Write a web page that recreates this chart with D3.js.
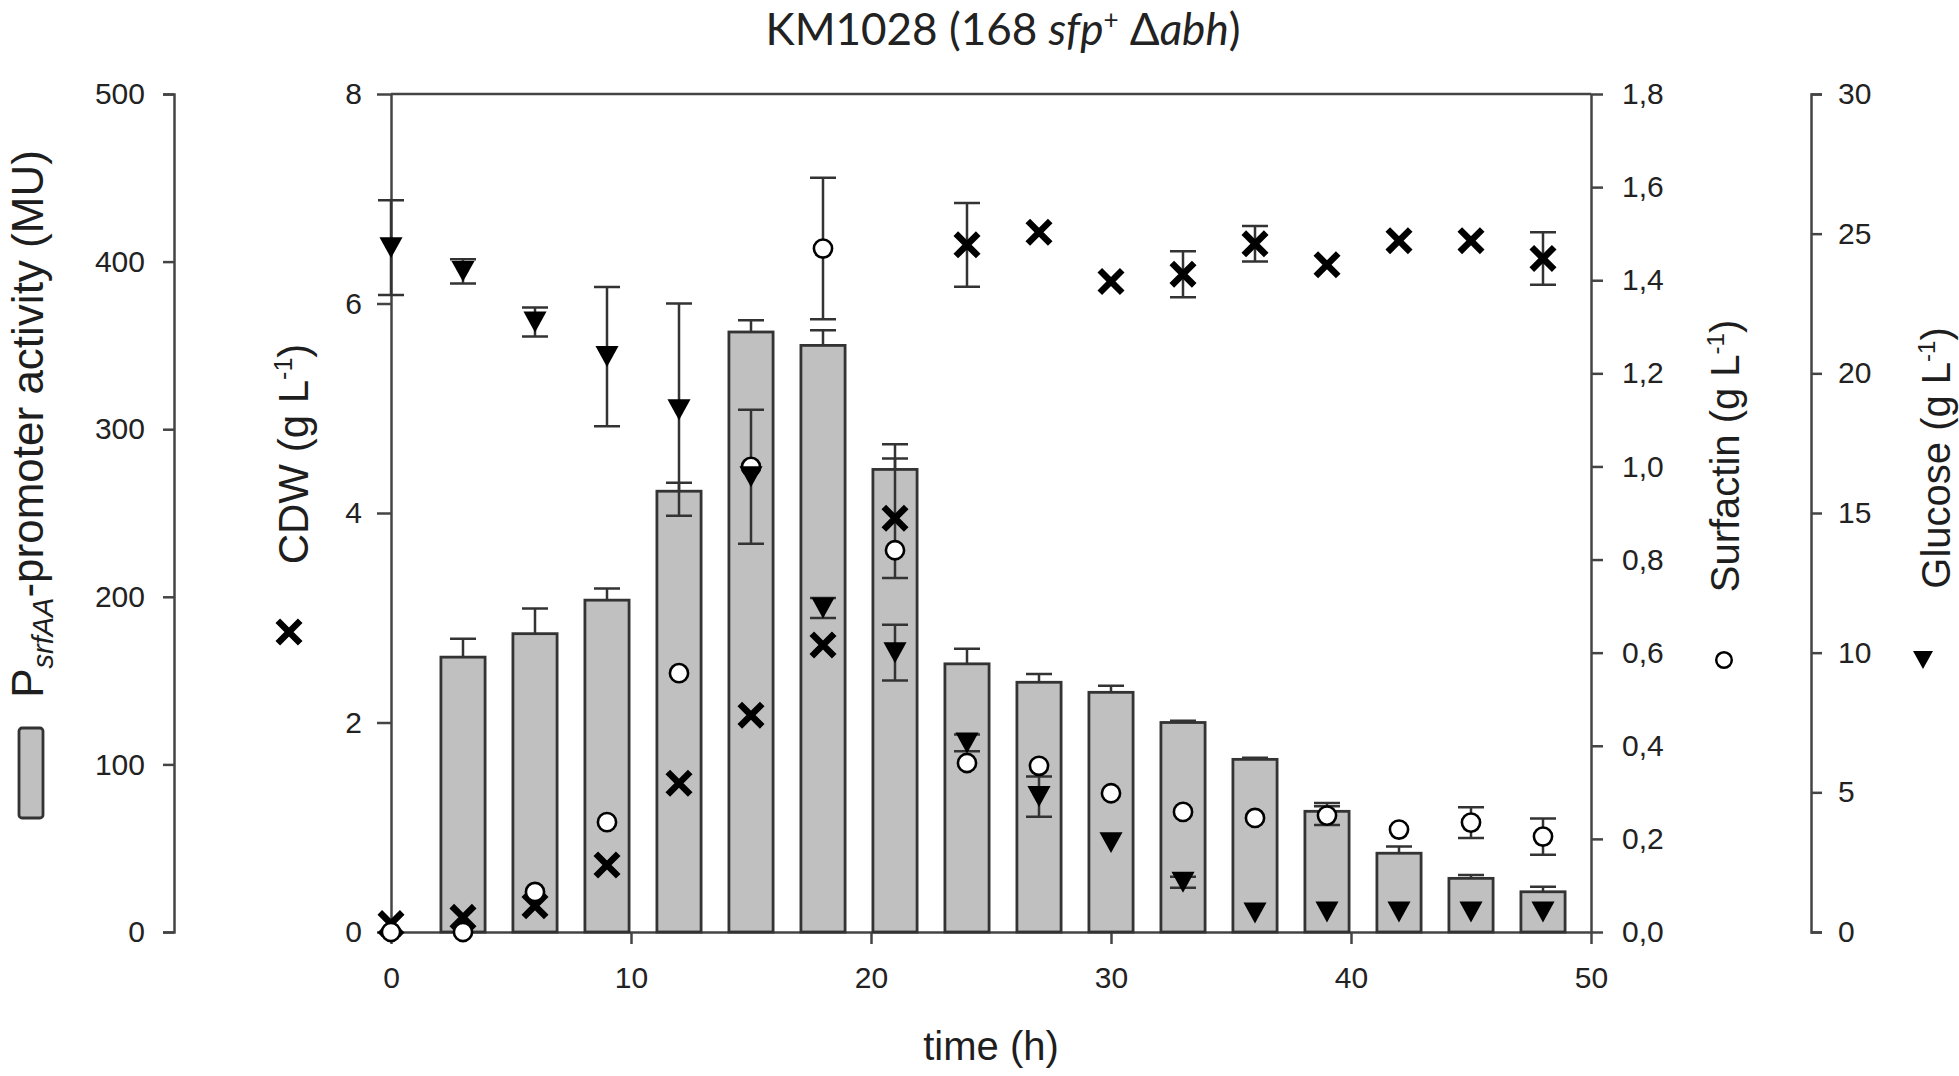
<!DOCTYPE html>
<html>
<head>
<meta charset="utf-8">
<script src="https://cdn.jsdelivr.net/npm/d3@7"></script>
<style>
  body { margin: 0; background: #fff; }
  svg { display: block; }
  .tick text { font-family: "Liberation Sans", Arial, sans-serif; font-size: 30px; fill: #222; }
  .axis path, .axis line { stroke: #444; stroke-width: 2.5; }
  .ttl { font-family: "Liberation Sans", Arial, sans-serif; font-size: 40px; fill: #1e1e1e; }
</style>
</head>
<body>
<div id="chart"></div>
<script>
// sampling times (h)
var times = [0, 3, 6, 9, 12, 15, 18, 21, 24, 27, 30, 33, 36, 39, 42, 45, 48];

// PsrfAA-promoter activity (MU), bars, no bar at t = 0
var promoterTimes = [3, 6, 9, 12, 15, 18, 21, 24, 27, 30, 33, 36, 39, 42, 45, 48];
var promoter    = [164, 178, 198, 263, 358, 350, 276, 160, 149, 143, 125, 103, 72, 47, 32, 24];
var promoterErr = [11, 15, 7, 5, 7, 9, 15, 9, 5, 4, 1, 1, 5, 4, 2, 3];

// CDW (g/L)
var cdw    = [0.08, 0.14, 0.25, 0.64, 1.42, 2.07, 2.74, 3.95, 6.56, 6.68, 6.21, 6.28, 6.57, 6.37, 6.6, 6.6, 6.43];
var cdwErr = [0, 0, 0, 0, 0, 0, 0, 0.57, 0.4, 0, 0, 0.22, 0.17, 0, 0, 0, 0.25];

// Surfactin (g/L)
var surfactin    = [0, 0, 0.086, 0.236, 0.556, 0.999, 1.468, 0.82, 0.363, 0.357, 0.298, 0.258, 0.245, 0.25, 0.22, 0.235, 0.205];
var surfactinErr = [0, 0, 0, 0, 0, 0, 0.152, 0, 0, 0, 0, 0, 0, 0.02, 0, 0.033, 0.039];

// Glucose (g/L)
var glucose    = [24.5, 23.65, 21.84, 20.6, 18.7, 16.3, 11.6, 10.0, 6.77, 4.85, 3.2, 1.78, 0.68, 0.72, 0.72, 0.72, 0.72];
var glucoseErr = [1.7, 0.43, 0.52, 2.49, 3.8, 2.4, 0.36, 1.0, 0.3, 0.72, 0, 0.2, 0, 0, 0, 0, 0];

// tick values
var xTicks = [0, 10, 20, 30, 40, 50];
var muTicks = [0, 100, 200, 300, 400, 500];
var cdwTicks = [0, 2, 4, 6, 8];
var surfTicks = [0, 0.2, 0.4, 0.6, 0.8, 1.0, 1.2, 1.4, 1.6, 1.8];
var gluTicks = [0, 5, 10, 15, 20, 25, 30];

var w = 1959, h = 1076;
var plotTop = 94, plotBottom = 932;

var svg = d3.select("#chart").append("svg")
  .attr("width", w)
  .attr("height", h);

// scales
var x = d3.scaleLinear().domain([0, 50]).range([391, 1591]);
var yMu = d3.scaleLinear().domain([0, 500]).range([plotBottom, plotTop]);
var yCdw = d3.scaleLinear().domain([0, 8]).range([plotBottom, plotTop]);
var ySurf = d3.scaleLinear().domain([0, 1.8]).range([plotBottom, plotTop]);
var yGlu = d3.scaleLinear().domain([0, 30]).range([plotBottom, plotTop]);

var commaFmt = d3.formatLocale({decimal: ",", thousands: ".", grouping: [3], currency: ["", ""]}).format(".1f");

// axes
function styleAxis(g) {
  g.attr("class", "axis");
  g.selectAll("text").attr("font-family", null).attr("font-size", null);
}

svg.append("g")
  .attr("transform", "translate(174,0)")
  .call(d3.axisLeft(yMu).tickValues(muTicks).tickSize(11).tickSizeOuter(11).tickPadding(18))
  .call(styleAxis);

svg.append("g")
  .attr("transform", "translate(391,0)")
  .call(d3.axisLeft(yCdw).tickValues(cdwTicks).tickSize(14).tickSizeOuter(0).tickPadding(15))
  .call(styleAxis);

svg.append("g")
  .attr("transform", "translate(1591,0)")
  .call(d3.axisRight(ySurf).tickValues(surfTicks).tickFormat(commaFmt).tickSize(12).tickSizeOuter(0).tickPadding(19))
  .call(styleAxis);

svg.append("g")
  .attr("transform", "translate(1811,0)")
  .call(d3.axisRight(yGlu).tickValues(gluTicks).tickSize(11).tickSizeOuter(11).tickPadding(16))
  .call(styleAxis);

svg.append("g")
  .attr("transform", "translate(0," + plotBottom + ")")
  .call(d3.axisBottom(x).tickValues(xTicks).tickSize(12).tickSizeOuter(0).tickPadding(23))
  .call(styleAxis);

// top frame line
svg.append("line")
  .attr("x1", x(0)).attr("x2", x(50))
  .attr("y1", plotTop).attr("y2", plotTop)
  .attr("stroke", "#444").attr("stroke-width", 2.5);

// bars
var halfBar = 0.92;
var barData = promoterTimes.map(function(t, i) { return {t: t, v: promoter[i], e: promoterErr[i]}; });

var bars = svg.append("g");
bars.selectAll("rect")
  .data(barData)
  .enter()
  .append("rect")
  .attr("x", d => x(d.t - halfBar))
  .attr("width", d => x(d.t + halfBar) - x(d.t - halfBar))
  .attr("y", d => yMu(d.v))
  .attr("height", d => yMu(0) - yMu(d.v))
  .attr("fill", "#c0c0c0")
  .attr("stroke", "#333")
  .attr("stroke-width", 2.8);

// bar error bars (upper half only)
var capW = 13;
var errCol = "#333";
bars.selectAll("path.err")
  .data(barData)
  .enter()
  .append("path")
  .attr("class", "err")
  .attr("d", function(d) {
    var cx = x(d.t), y0 = yMu(d.v), y1 = yMu(d.v + d.e);
    return "M" + cx + "," + y0 + "V" + y1 + "M" + (cx - capW) + "," + y1 + "H" + (cx + capW);
  })
  .attr("fill", "none")
  .attr("stroke", errCol)
  .attr("stroke-width", 2.5);

// scatter series
function seriesData(vals, errs) {
  return times.map(function(t, i) { return {t: t, v: vals[i], e: errs[i]}; });
}
var cdwData = seriesData(cdw, cdwErr);
var surfData = seriesData(surfactin, surfactinErr);
var gluData = seriesData(glucose, glucoseErr);

function errorBars(data, y) {
  svg.append("g").selectAll("path")
    .data(data.filter(d => d.e > 0))
    .enter()
    .append("path")
    .attr("d", function(d) {
      var cx = x(d.t), y1 = y(d.v + d.e), y2 = y(d.v - d.e);
      return "M" + cx + "," + y1 + "V" + y2 +
        "M" + (cx - capW) + "," + y1 + "H" + (cx + capW) +
        "M" + (cx - capW) + "," + y2 + "H" + (cx + capW);
    })
    .attr("fill", "none")
    .attr("stroke", errCol)
    .attr("stroke-width", 2.5);
}
errorBars(cdwData, yCdw);
errorBars(surfData, ySurf);
errorBars(gluData, yGlu);

// marker shapes
var downTri = {
  draw: function(ctx, size) {
    var s = Math.sqrt(size);
    ctx.moveTo(-s * 0.55, -s * 0.5);
    ctx.lineTo(s * 0.55, -s * 0.5);
    ctx.lineTo(0, s * 0.5);
    ctx.closePath();
  }
};
var crossPath = d3.symbol(d3.symbolX, 330)();
var circlePath = d3.symbol(d3.symbolCircle, 260)();
var triPath = d3.symbol(downTri, 440)();

svg.append("g").selectAll("path")
  .data(cdwData)
  .enter()
  .append("path")
  .attr("transform", d => "translate(" + x(d.t) + "," + yCdw(d.v) + ")")
  .attr("d", crossPath)
  .attr("stroke", "#000")
  .attr("stroke-width", 6.5)
  .attr("fill", "none");

svg.append("g").selectAll("path")
  .data(surfData)
  .enter()
  .append("path")
  .attr("transform", d => "translate(" + x(d.t) + "," + ySurf(d.v) + ")")
  .attr("d", circlePath)
  .attr("stroke", "#000")
  .attr("stroke-width", 2.6)
  .attr("fill", "#fff");

svg.append("g").selectAll("path")
  .data(gluData)
  .enter()
  .append("path")
  .attr("transform", d => "translate(" + x(d.t) + "," + yGlu(d.v) + ")")
  .attr("d", triPath)
  .attr("fill", "#000");

// axis titles
function rotTitle(cx, cy, size) {
  return svg.append("text")
    .attr("class", "ttl")
    .attr("text-anchor", "middle")
    .attr("font-size", size + "px")
    .style("font-size", size + "px")
    .attr("transform", "translate(" + cx + "," + cy + ") rotate(-90)");
}

var tMu = rotTitle(43, 424, 44);
tMu.append("tspan").text("P");
tMu.append("tspan").attr("dy", 10).style("font-size", "29px").attr("font-style", "italic").text("srfAA");
tMu.append("tspan").attr("dy", -10).text("-promoter activity (MU)");

var tCdw = rotTitle(308, 454, 42);
tCdw.append("tspan").text("CDW (g L");
tCdw.append("tspan").attr("dy", -16).style("font-size", "25px").text("-1");
tCdw.append("tspan").attr("dy", 16).text(")");

var tSurf = rotTitle(1739, 456, 40);
tSurf.append("tspan").text("Surfactin (g L");
tSurf.append("tspan").attr("dy", -15).style("font-size", "24px").text("-1");
tSurf.append("tspan").attr("dy", 15).text(")");

var tGlu = rotTitle(1950, 458, 40);
tGlu.append("tspan").text("Glucose (g L");
tGlu.append("tspan").attr("dy", -15).style("font-size", "24px").text("-1");
tGlu.append("tspan").attr("dy", 15).text(")");

svg.append("text")
  .attr("class", "ttl")
  .attr("text-anchor", "middle")
  .attr("x", 991)
  .attr("y", 1060)
  .text("time (h)");

// legend symbols next to titles
svg.append("rect")
  .attr("x", 19).attr("y", 728)
  .attr("width", 24).attr("height", 90)
  .attr("rx", 3)
  .attr("fill", "#c0c0c0")
  .attr("stroke", "#333")
  .attr("stroke-width", 2.8);

svg.append("path")
  .attr("transform", "translate(289,632)")
  .attr("d", crossPath)
  .attr("stroke", "#000").attr("stroke-width", 6.5).attr("fill", "none");

svg.append("path")
  .attr("transform", "translate(1724,660)")
  .attr("d", d3.symbol(d3.symbolCircle, 190)())
  .attr("stroke", "#000").attr("stroke-width", 2.5).attr("fill", "#fff");

svg.append("path")
  .attr("transform", "translate(1923,660)")
  .attr("d", d3.symbol(downTri, 330)())
  .attr("fill", "#000");

// chart title
var title = svg.append("text")
  .attr("x", 1003)
  .attr("y", 45)
  .attr("text-anchor", "middle")
  .attr("font-family", "Lato, 'Open Sans', sans-serif")
  .attr("font-size", "44px")
  .attr("fill", "#222");
title.append("tspan").text("KM1028 (168 ");
title.append("tspan").attr("font-style", "italic").text("sfp");
title.append("tspan").attr("dy", -16).attr("font-size", "26px").text("+");
title.append("tspan").attr("dy", 16).text(" \u0394");
title.append("tspan").attr("font-style", "italic").text("abh");
title.append("tspan").text(")");
</script>
</body>
</html>
